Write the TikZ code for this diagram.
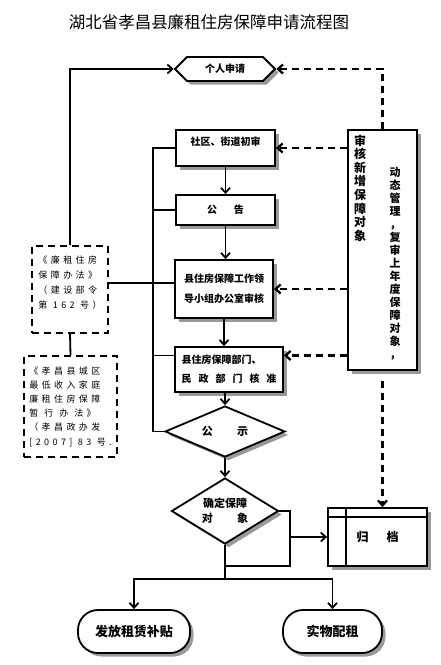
\documentclass[tikz,border=0pt]{standalone}
\usepackage{fontspec}
\setmainfont{Noto Sans CJK SC}
\newfontfamily\lawfont[LetterSpace=38]{Noto Sans CJK SC}
\usetikzlibrary{positioning,shapes.geometric,shapes.symbols,shadows,arrows.meta}

\begin{document}
\begin{tikzpicture}[x=1pt,y=-1pt,
    >={Straight Barb[length=5pt,width=9pt]},
    line/.style={line width=1.8pt,black},
    dline/.style={line width=2.3pt,black,dash pattern=on 7pt off 5pt},
    boxshadow/.style={drop shadow={shadow xshift=3.5pt,shadow yshift=-3.5pt,opacity=1,fill=black!40}},
    stagebox/.style={draw,line width=1.8pt,fill=white,boxshadow,inner sep=2pt,
        font=\bfseries\fontsize{10}{12}\selectfont},
    hexa/.style={signal,signal to=east and west,draw,line width=1.8pt,fill=white,boxshadow,
        minimum width=100pt,minimum height=24pt,inner sep=1pt,font=\bfseries\fontsize{10}{12}\selectfont},
    gate/.style={diamond,draw,line width=1.8pt,fill=white,boxshadow,inner sep=0pt,
        font=\bfseries\fontsize{11}{15}\selectfont},
    terminal/.style={draw,line width=1.8pt,fill=white,boxshadow,rounded corners=20pt,
        minimum height=43pt,font=\bfseries\fontsize{13}{15}\selectfont},
    lawbox/.style={draw,line width=2.2pt,dash pattern=on 7pt off 5pt,align=left,inner sep=0pt,
        font=\lawfont\fontsize{9}{15}\selectfont},
    vcol/.style={align=center,inner sep=0pt}
  ]
  \useasboundingbox (0,0) rectangle (440,665);
  % title
  \node[font=\fontsize{16.5}{18}\selectfont] (title) at (209,22) {湖北省孝昌县廉租住房保障申请流程图};

  % main column
  \node[hexa] (apply) at (225,69) {个人申请};
  \node[stagebox,minimum width=99pt,minimum height=36pt,text depth=14pt] (review) at (225.5,148) {社区、街道初审};
  \node[stagebox,minimum width=99pt,minimum height=30pt] (notice) at (225.5,210) {公\hspace{1.7em}告};
  \node[stagebox,minimum width=98pt,minimum height=58pt,align=left,
        font=\bfseries\fontsize{10}{20}\selectfont] (office) at (224,289) {县住房保障工作领\\导小组办公室审核};
  \node[stagebox,minimum width=108pt,minimum height=45pt,align=left,
        font=\bfseries\fontsize{10}{19}\selectfont] (approve) at (229,369.5)
        {县住房保障部门、\\民\hspace{7pt}政\hspace{7pt}部\hspace{7pt}门\hspace{7pt}核\hspace{7pt}准};
  \node[gate,aspect=2.3,minimum width=120pt,minimum height=51pt] (publicity) at (225,431.5) {公\hspace{2.2em}示};
  \node[gate,aspect=1.6,minimum width=107pt,minimum height=66pt,align=center] (confirm) at (225,511)
        {确定保障\\对\hspace{2.2em}象};

  % results
  \node[stagebox,minimum width=99pt,minimum height=58pt,font=\bfseries\fontsize{12}{14}\selectfont] (archive) at (377.5,537) {归\hspace{1.5em}档};
  \draw[line] ([yshift=-10pt]archive.north west) -- ([yshift=-10pt]archive.north east);
  \draw[line] ([xshift=19pt]archive.north west) -- ([xshift=19pt]archive.south west);
  \node[terminal,minimum width=112pt] (subsidy) at (134,631.5) {发放租赁补贴};
  \node[terminal,minimum width=99pt] (rent) at (332.5,631.5) {实物配租};

  % regulations
  \node[lawbox,minimum width=76pt,minimum height=87pt] (law1) at (70,289.5)
        {《廉租住房\\保障办法》\\（建设部令\\第 162 号）\\ \mbox{}};
  \node[lawbox,minimum width=93pt,minimum height=101pt,font=\lawfont\fontsize{9}{14.2}\selectfont] (law2) at (70.5,406.5)
        {《孝昌县城区\\最低收入家庭\\廉租住房保障\\暂\hspace{6pt}行\hspace{6pt}办\hspace{6pt}法》\\（孝昌政办发\\{}[2007] 83 号.};

  % dynamic check
  \node[stagebox,minimum width=69pt,minimum height=240pt] (check) at (382.5,250) {};
  \node[vcol,font=\bfseries\fontsize{12}{13.6}\selectfont] (checknew) at (360,188) {审\\核\\新\\增\\保\\障\\对\\象};
  \node[vcol,font=\bfseries\fontsize{11}{13}\selectfont] (checkold) at (395,264)
        {动\\态\\管\\理\\，\\复\\审\\上\\年\\度\\保\\障\\对\\象\\，};

  % trunk on the left
  \coordinate (trunk) at (153,0);
  \coordinate (officeL) at ([yshift=6pt]office.west);
  \coordinate (approveL) at ([yshift=14pt]approve.west);
  \draw[line] (review.west) -| (trunk |- publicity.west) -- (publicity.west);
  \draw[line] (trunk |- notice.west) -- (notice.west);
  \draw[line] (law1.east |- officeL) -- (officeL);
  \draw[line] (trunk |- approveL) -- (approveL);
  \draw[line,->] (law1.north) |- (apply.west);
  \draw[line] (law1.south) -- (law2.north);

  % main flow
  \draw[line,->] (review.south) -- (review.south |- notice.north);
  \draw[line,->] (notice.south) -- (notice.south |- office.north);
  \draw[line,->] (office.south) -- (office.south |- approve.north);
  \draw[line,->] (publicity.north |- approve.south) -- (publicity.north);
  \draw[line,->] (publicity.south) -- (confirm.north);

  % after confirm
  \coordinate (bend) at (290,0);
  \coordinate (join) at (225,566);
  \coordinate (split) at (225,579);
  \draw[line] (confirm.east) -- (bend |- confirm.east) -- (bend |- join) -- (join);
  \draw[line,->] (bend |- archive.west) -- (archive.west);
  \draw[line] (confirm.south) -- (split);
  \draw[line,->] (split) -| (subsidy.north);
  \draw[line,->] (split) -| (rent.north);

  % dashed feedback
  \coordinate (approveR) at ([yshift=14pt]approve.east);
  \draw[dline,->] (check.north) |- (apply.east);
  \draw[dline,->] (check.west |- review.east) -- (review.east);
  \draw[dline,->] (check.west |- office.east) -- (office.east);
  \draw[dline,->] (check.west |- approveR) -- (approveR);
  \draw[dline,->] ([yshift=-10pt]check.south) -- (check.south |- archive.north);
\end{tikzpicture}
\end{document}
